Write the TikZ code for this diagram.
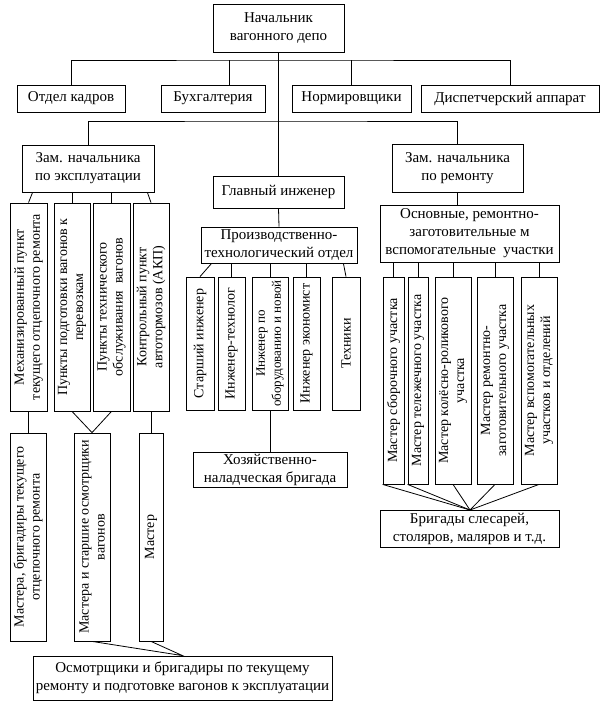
\documentclass[tikz,border=0pt]{standalone}
\usepackage{fontspec}
\setmainfont{Liberation Serif}
\newcommand\hfont{\fontsize{15}{18}\selectfont}
\newcommand\vfont{\fontsize{14}{16}\selectfont}
\begin{document}
\begin{tikzpicture}[x=1pt,y=-1pt,line width=0.8pt,
		hbox/.style={draw,align=center,inner sep=0pt,font=\hfont},
		vbox/.style={draw,align=center,inner sep=0pt,font=\vfont,rotate=90}]
		\useasboundingbox (0,0) rectangle (609,708);
		
		% Top level
		\node[hbox,minimum width=131,minimum height=48] (chief) at (278.5,28) {Начальник\\вагонного депо};
		\node[hbox,minimum width=108,minimum height=27] (kadry) at (71,98.5) {Отдел кадров};
		\node[hbox,minimum width=104,minimum height=27] (buh) at (213,98.5) {Бухгалтерия};
		\node[hbox,minimum width=119,minimum height=27] (norm) at (351.5,98.5) {Нормировщики};
		\node[hbox,minimum width=178,minimum height=27] (disp) at (510,98.5) {Диспетчерский аппарат};
		
		% Deputies and chief engineer
		\node[hbox,minimum width=132,minimum height=47] (zamexp) at (88,168.5) {Зам. начальника\\по эксплуатации};
		\node[hbox,minimum width=131,minimum height=32] (glinzh) at (278.5,192) {Главный инженер};
		\node[hbox,minimum width=131,minimum height=48] (zamrem) at (457.5,168) {Зам. начальника\\по ремонту};
		
		% Operations branch
		\node[vbox,minimum width=208,minimum height=37] (mech) at (28.5,307) {Механизированный пункт\\текущего отцепочного ремонта};
		\node[vbox,minimum width=208,minimum height=36] (podg) at (72,307) {Пункты подготовки вагонов к\\перевозкам};
		\node[vbox,minimum width=208,minimum height=37] (tehobs) at (111.5,307) {Пункты технического\\обслуживания~~вагонов};
		\node[vbox,minimum width=208,minimum height=36] (akp) at (151,307) {Контрольный пункт\\автотормозов (АКП)};
		\node[vbox,minimum width=208,minimum height=36] (mbrig) at (28,537) {Мастера, бригадиры текущего\\отцепочного ремонта};
		\node[vbox,minimum width=208,minimum height=36] (mstar) at (92,537) {Мастера и старшие осмотрщики\\вагонов};
		\node[vbox,minimum width=208,minimum height=24] (master) at (151,537) {Мастер};
		\node[hbox,minimum width=299,minimum height=44] (osm) at (182.5,678) {Осмотрщики и бригадиры по текущему\\ремонту и подготовке вагонов к эксплуатации};
		
		% Engineering branch
		\node[hbox,minimum width=156,minimum height=36] (proizv) at (279,245) {Производственно-\\технологический отдел};
		\node[vbox,minimum width=133,minimum height=28] (starsh) at (200,343.5) {Старший инженер};
		\node[vbox,minimum width=133,minimum height=27] (tehn) at (231.5,343.5) {Инженер-технолог};
		\node[vbox,minimum width=133,minimum height=36,font=\fontsize{13}{16}\selectfont] (oborud) at (270,343.5) {Инженер по\\оборудованию и новой};
		\node[vbox,minimum width=133,minimum height=27] (ekon) at (306.5,343.5) {Инженер экономист};
		\node[vbox,minimum width=133,minimum height=28] (tehniki) at (346,343.5) {Техники};
		\node[hbox,minimum width=154,minimum height=35] (hoz) at (270,469.5) {Хозяйственно-\\наладческая бригада};
		
		% Repair branch
		\node[hbox,minimum width=179,minimum height=57] (osn) at (469.5,233.5) {Основные, ремонтно-\\заготовительные м\\вспомогательные~~участки};
		\node[vbox,minimum width=207,minimum height=21] (sbor) at (393.5,380.5) {Мастер сборочного участка};
		\node[vbox,minimum width=207,minimum height=20] (tel) at (418,380.5) {Мастер тележечного участка};
		\node[vbox,minimum width=207,minimum height=36] (kol) at (453,380.5) {Мастер колёсно-роликового\\участка};
		\node[vbox,minimum width=207,minimum height=36] (rem) at (495,380.5) {Мастер ремонтно-\\заготовительного участка};
		\node[vbox,minimum width=207,minimum height=36] (vsp) at (539,380.5) {Мастер вспомогательных\\участков и отделений};
		\node[hbox,minimum width=179,minimum height=37] (brig) at (469.5,528.5) {Бригады слесарей,\\столяров, маляров и т.д.};
		
		% Buses
		\coordinate (bus1) at (279,60);
		\coordinate (bus2) at (279,121);
		\coordinate (fan) at (470,510);
		\draw (kadry.north) |- (bus1) -| (disp.north);
		\draw ([xshift=16pt]buh.north) -- ([xshift=16pt]buh.north |- bus1);
		\draw (norm.north) -- (norm.north |- bus1);
		\draw (chief.south) -- (glinzh.north);
		\draw (zamexp.north) |- (bus2) -| (zamrem.north);
		
		% Operations links
		\draw ([xshift=11pt]zamexp.south west) -- (mech.east);
		\draw (podg.east |- zamexp.south) -- (podg.east);
		\draw (tehobs.east |- zamexp.south) -- (tehobs.east);
		\draw ([xshift=-7pt]zamexp.south east) -- (akp.east);
		\draw (mech.west) -- (mech.west |- mbrig.east);
		\draw (podg.west) -- (mstar.east) -- (tehobs.west);
		\draw (akp.west) -- (akp.west |- master.east);
		\draw (mstar.west) -- (osm.north) -- (master.west);
		
		% Engineering links
		\draw (glinzh.south) -- (proizv.north);
		\draw ([xshift=11pt]proizv.south west) -- (starsh.east);
		\draw (tehn.east |- proizv.south) -- (tehn.east);
		\draw (oborud.east |- proizv.south) -- (oborud.east);
		\draw (ekon.east |- proizv.south) -- (ekon.east);
		\draw ([xshift=-14pt]proizv.south east) -- (tehniki.east);
		\draw (oborud.west) -- (hoz.north);
		
		% Repair links
		\draw (zamrem.south) -- (zamrem.south |- osn.north);
		\foreach \n in {sbor,tel,kol,rem,vsp}
			\draw (\n.east |- osn.south) -- (\n.east);
		\draw (sbor.north west) -- (fan);
		\draw (tel.north west) -- (fan);
		\draw (kol.west) -- (fan);
		\draw (rem.west) -- (fan);
		\draw (vsp.west) -- (fan);
	\end{tikzpicture}
\end{document}
